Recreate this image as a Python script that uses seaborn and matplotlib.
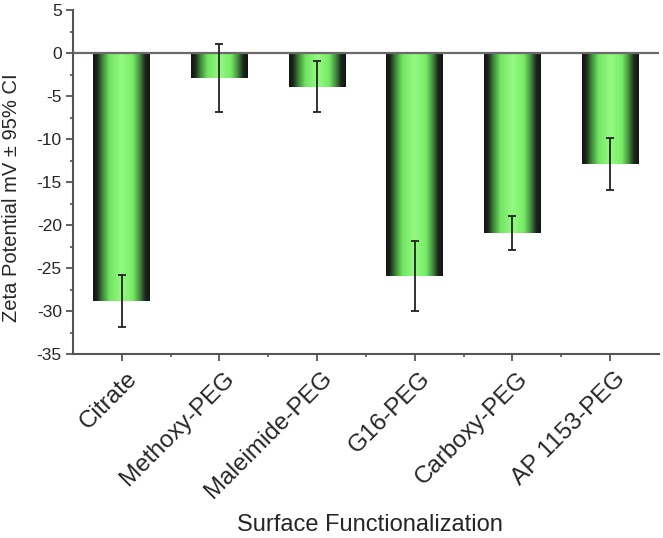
import numpy as np
import pandas as pd
import matplotlib
matplotlib.use("Agg")
import matplotlib.pyplot as plt
import matplotlib.transforms as mtrans
import seaborn as sns
from matplotlib.colors import LinearSegmentedColormap
from matplotlib.ticker import MultipleLocator, FixedLocator

categories = ["Citrate", "Methoxy-PEG", "Maleimide-PEG", "G16-PEG", "Carboxy-PEG", "AP 1153-PEG"]
zeta_mv = [-28.8, -2.9, -3.9, -25.9, -20.9, -12.9]
ci95 = [3.0, 4.0, 3.0, 4.1, 2.0, 3.0]
y_ticks = [5, 0, -5, -10, -15, -20, -25, -30, -35]

sns.set_style("ticks")
plt.rcParams["font.family"] = ["Liberation Sans", "DejaVu Sans"]
plt.rcParams["axes.unicode_minus"] = False

fig = plt.figure(figsize=(6.63, 5.38), dpi=100)
ax = fig.add_axes([0.110, 0.342, 0.884, 0.639])

df = pd.DataFrame({"cat": categories, "zeta": zeta_mv})
sns.barplot(data=df, x="cat", y="zeta", ax=ax, width=0.58, errorbar=None,
            color="#80f070", edgecolor="none", zorder=2)

stops = [(0.0, "#121512"), (0.07, "#1c261c"), (0.17, "#3f8a3a"), (0.29, "#72e462"),
         (0.5, "#94fa82"), (0.70, "#78ec66"), (0.81, "#489844"), (0.92, "#1c261c"), (1.0, "#121512")]
cmap = LinearSegmentedColormap.from_list("bargrad", stops)
grad = np.linspace(0, 1, 256).reshape(1, -1)
for p in list(ax.patches):
    x0, y0, w, h = p.get_x(), p.get_y(), p.get_width(), p.get_height()
    ylo, yhi = min(y0, y0 + h), max(y0, y0 + h)
    im = ax.imshow(grad, extent=[x0, x0 + w, ylo, yhi], aspect="auto", cmap=cmap,
                   interpolation="bilinear", zorder=3)
    im.set_clip_path(p)

ax.errorbar(np.arange(len(categories)), zeta_mv, yerr=ci95, fmt="none",
            ecolor="#222222", elinewidth=1.3, capsize=3, capthick=1.3, zorder=5)
ax.axhline(0, color="#6a6a6a", lw=1.6, zorder=4)

ax.set_xlim(-0.5, 5.5)
ax.set_ylim(-35, 5)
ax.set_aspect("auto")
ax.set_yticks(y_ticks)
ax.yaxis.set_minor_locator(MultipleLocator(2.5))
ax.xaxis.set_minor_locator(FixedLocator(np.arange(0.5, 5.0, 1.0)))

for s in ["top", "right"]:
    ax.spines[s].set_visible(False)
for s in ["left", "bottom"]:
    ax.spines[s].set_color("#555555")
    ax.spines[s].set_linewidth(1.5)

ax.tick_params(axis="both", which="major", direction="out", length=5, width=1.3, color="#555555")
ax.tick_params(axis="both", which="minor", direction="out", length=2.5, width=1.2, color="#555555")
ax.tick_params(axis="y", labelsize=12.5, pad=3)
ax.tick_params(axis="x", pad=3)
ax.set_xticks(range(len(categories)))
ax.set_xticklabels(categories, rotation=45, ha="right", va="center",
                   rotation_mode="anchor", fontsize=17.5)
offset = mtrans.ScaledTranslation(12 / 100, -10 / 100, fig.dpi_scale_trans)
for lab in ax.get_xticklabels():
    lab.set_transform(lab.get_transform() + offset)

ax.set_xlabel("Surface Functionalization", fontsize=17, va="center")
ax.xaxis.set_label_coords(0.507, -0.497)
ax.set_ylabel("Zeta Potential mV \u00b1 95% CI", fontsize=14.5, va="center")
ax.yaxis.set_label_coords(-0.104, 0.456)

fig.savefig("out.png", dpi=100)
